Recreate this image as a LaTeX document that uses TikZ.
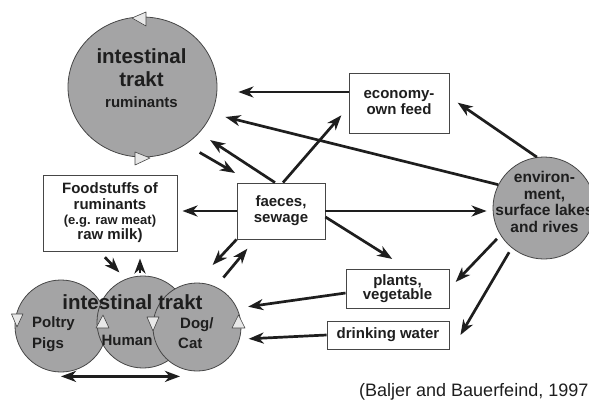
\documentclass[tikz,border=0pt]{standalone}
\usepackage{fontspec}
\setmainfont{Liberation Sans}
\usetikzlibrary{shapes.geometric,arrows.meta}
\definecolor{circgray}{RGB}{164,164,165}
\definecolor{tripale}{RGB}{232,232,232}
\definecolor{edgegray}{RGB}{70,70,70}
\definecolor{inkblack}{RGB}{30,30,30}
\tikzstyle{box} = [draw=edgegray, line width=0.9pt, fill=white, align=center, inner sep=0pt, text=inkblack, font=\bfseries\fontsize{15}{16}\selectfont]
\tikzstyle{blob} = [draw=edgegray, line width=0.8pt, fill=circgray, circle, inner sep=0pt]
\tikzstyle{tri} = [draw=edgegray, line width=0.6pt, fill=tripale, line join=round]
\tikzstyle{arr} = [line width=2.7pt, draw=inkblack, ->, >={Stealth[length=15pt,width=11pt,inset=4.5pt]}]
\tikzstyle{lbl} = [text=inkblack, inner sep=0pt, font=\bfseries\fontsize{15}{16}\selectfont]
\tikzstyle{biglbl} = [text=inkblack, inner sep=0pt, font=\bfseries\fontsize{20.5}{23}\selectfont]

\begin{document}
\begin{tikzpicture}[x=1pt,y=-1pt]
\useasboundingbox (0,0) rectangle (589,399);
\clip (0,0) rectangle (589,399);

% circles
\node[blob, ellipse, minimum width=149, minimum height=140] (rum) at (142.5,87) {};
\node[blob, minimum size=92] (pol) at (61,326) {};
\node[blob, minimum size=92] (hum) at (143,322) {};
\node[blob, minimum size=88] (dog) at (197,327) {};
\node[blob, minimum size=102] (env) at (544,208) {};

% small triangles on the circles
\draw[tri] (132,18) -- (146,12) -- (146,26) -- cycle;
\draw[tri] (150,158) -- (135,152) -- (135,165) -- cycle;
\draw[tri] (17,327) -- (11.5,314) -- (23,314) -- cycle;
\draw[tri] (103,315) -- (96,328) -- (109,328) -- cycle;
\draw[tri] (153,331) -- (147,317) -- (159,317) -- cycle;
\draw[tri] (238.5,315) -- (232,328) -- (245,328) -- cycle;

% circle labels
\node[biglbl, anchor=base] (rum1) at (141.5,63) {intestinal};
\node[biglbl, anchor=base] (rum2) at (141.5,86) {trakt};
\node[lbl, anchor=base] (rum3) at (141.5,107) {ruminants};
\node[biglbl, anchor=base] (gut) at (132.5,309) {intestinal trakt};
\node[lbl, anchor=base west] (pol1) at (32,327) {Poltry};
\node[lbl, anchor=base west] (pol2) at (32,348) {Pigs};
\node[lbl, anchor=base] (hum1) at (127,345) {Human};
\node[lbl, anchor=base west] (dog1) at (180,328) {Dog/};
\node[lbl, anchor=base west] (dog2) at (178,348) {Cat};
\node[lbl, align=center, font=\bfseries\fontsize{15.5}{16.4}\selectfont] (envtext) at (544.5,202) {environ-\\ment,\\surface lakes\\and rives};

% boxes
\node[box, minimum width=134, minimum height=76, font=\bfseries\fontsize{15}{15.3}\selectfont] (food) at (110,213)
  {Foodstuffs of\\ruminants\\\fontsize{13}{15.3}\selectfont (e.g. raw meat)\\raw milk)};
\node[box, minimum width=88, minimum height=56] (fae) at (281,211) {faeces,\\sewage};
\node[box, minimum width=100, minimum height=60] (eco) at (399,103) {economy-\\own feed};
\node[box, minimum width=103, minimum height=39, font=\bfseries\fontsize{15}{14}\selectfont] (plt) at (397.5,288.5) {plants,\\vegetable};
\node[box, minimum width=122, minimum height=28] (drk) at (388,335) {drinking water};

\node[anchor=base west, inner sep=0pt, text=inkblack, font=\fontsize{18}{20}\selectfont] (cite) at (359,396) {(Baljer and Bauerfeind, 1997};

% arrows
\draw[arr, shorten >=21pt] ([yshift=11pt]eco.west) -- ([yshift=11pt]eco.west -| rum.east);
\draw[arr, shorten >=14pt] (env.153) -- (rum.-21);
\draw[arr, shorten >=13pt] ([xshift=-6pt]fae.north) -- (rum.-39);
\draw[arr, shorten <=16pt, shorten >=19pt] (rum.-53) -- ([xshift=15pt]fae.north west);
\draw[arr, shorten >=11pt] ([xshift=2pt]fae.north) -- ([yshift=-4pt]eco.west);
\draw[arr, shorten >=10pt] (env.98) -- ([yshift=6pt]eco.east);
\draw[arr, shorten >=6pt] (fae.east) -- (fae.east -| env.west);
\draw[arr, shorten >=18pt] ([yshift=-6pt]fae.east) -- ([xshift=10pt]plt.north);
\draw[arr, shorten <=5pt, shorten >=9pt] (env.212) -- (plt.east);
\draw[arr, shorten <=5pt] (env.231) -- ([xshift=11pt]drk.east);
\draw[arr, shorten >=11pt] ([yshift=-4.5pt]plt.west) -- (dog.25);
\draw[arr, shorten >=9pt] (drk.west) -- (dog.-16);
\draw[arr, shorten >=5pt] (fae.west) -- (fae.west -| food.east);
\draw[arr, shorten <=8pt, shorten >=9pt] ([xshift=-10.6pt]food.south) -- (hum.112);
\draw[arr, shorten <=3pt, shorten >=7pt] ([xshift=-3pt]hum.north) -- ([xshift=-3pt]hum.north |- food.south);
\draw[arr, shorten >=24pt] (fae.south west) -- (dog.91);
\draw[arr, shorten <=12pt, shorten >=12pt] (dog.65) -- ([xshift=18.5pt]fae.south west);
\draw[arr, <->, shorten >=17pt] ([yshift=-4pt]pol.south) -- ([yshift=-4pt]pol.south -| dog.south);
\end{tikzpicture}
\end{document}
